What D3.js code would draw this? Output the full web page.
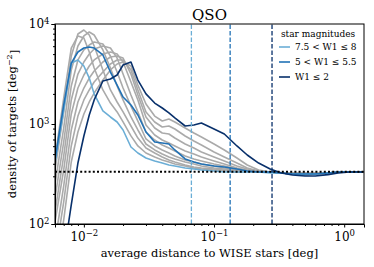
<!DOCTYPE html>
<html>
<head>
<meta charset="utf-8">
<script src="https://cdn.jsdelivr.net/npm/d3@7"></script>
<style>
  body { margin: 0; background: #fff; }
  text { font-family: "DejaVu Serif", serif; }
</style>
</head>
<body>
<svg width="374" height="267"></svg>
<script>
// distances where the curves are sampled [deg]
var xs = [0.006, 0.007, 0.008, 0.009, 0.010, 0.011, 0.012, 0.014, 0.016, 0.018,
          0.020, 0.023, 0.026, 0.030, 0.035, 0.040, 0.045, 0.050, 0.060, 0.070,
          0.080, 0.10, 0.12, 0.15, 0.18, 0.22, 0.27, 0.33, 0.40, 0.50,
          0.60, 0.75, 0.90, 1.1, 1.4];

// other magnitude bins (grey)
var grayCurves = [
  [457, 1820, 5750, 7590, 7240, 5250, 3630, 2190, 1620, 1320, 1050, 760, 603, 513, 468, 437, 417, 398, 380, 363, 355, 347, 339, 331, 331, 331, 331, 324, 324, 324, 324, 324, 331, 331, 331],
  [347, 1320, 4790, 7940, 8710, 7760, 6030, 3470, 2190, 1660, 1320, 955, 724, 575, 513, 468, 437, 417, 389, 372, 363, 355, 347, 339, 331, 331, 331, 324, 324, 324, 324, 324, 331, 331, 331],
  [251, 912, 3470, 6030, 7590, 8320, 7760, 5500, 3630, 2400, 1740, 1175, 871, 631, 550, 501, 468, 447, 417, 398, 380, 363, 355, 339, 331, 331, 331, 324, 324, 324, 324, 324, 331, 331, 331],
  [182, 661, 2400, 4370, 5500, 6170, 6610, 6310, 4790, 3310, 2290, 1510, 1070, 708, 603, 550, 513, 479, 437, 417, 398, 380, 363, 347, 339, 331, 331, 324, 324, 324, 324, 324, 331, 331, 331],
  [132, 479, 1740, 3160, 4170, 5010, 5620, 6030, 5750, 4570, 3160, 1950, 1320, 832, 692, 617, 575, 537, 479, 447, 427, 398, 380, 355, 339, 331, 331, 324, 324, 324, 324, 324, 331, 331, 331],
  [105, 347, 1260, 2290, 3090, 3800, 4370, 5010, 5250, 5010, 4170, 2630, 1740, 977, 776, 692, 646, 603, 537, 501, 468, 427, 398, 363, 347, 339, 331, 324, 316, 316, 316, 324, 331, 331, 331],
  [66, 240, 871, 1660, 2290, 2880, 3390, 4170, 4680, 4790, 4570, 3160, 1950, 1175, 912, 813, 794, 724, 631, 575, 525, 468, 427, 380, 355, 339, 331, 324, 316, 316, 316, 324, 331, 331, 331],
  [46, 166, 603, 1200, 1740, 2190, 2630, 3310, 3980, 4370, 4370, 3470, 2190, 1320, 1047, 933, 955, 891, 759, 676, 617, 525, 468, 407, 363, 339, 331, 324, 316, 309, 316, 324, 331, 331, 331],
  [31, 110, 417, 832, 1260, 1660, 2040, 2750, 3470, 3980, 4170, 3800, 2450, 1585, 1200, 1072, 1122, 1047, 912, 813, 741, 631, 550, 457, 389, 347, 331, 324, 316, 309, 316, 324, 331, 331, 331]
];

// highlighted bins
var faintStars = [407, 1380, 4070, 4370, 3800, 2880, 2000, 1350, 1175, 1047, 871, 589, 513, 457, 427, 407, 389, 380, 363, 355, 347, 339, 331, 331, 331, 331, 324, 324, 316, 316, 316, 324, 331, 331, 331];
var midStars = [437, 1550, 4070, 5250, 5750, 5890, 5750, 4900, 3310, 2450, 1860, 1550, 1230, 832, 661, 646, 631, 550, 447, 417, 398, 380, 372, 355, 339, 331, 331, 324, 316, 316, 316, 324, 331, 331, 331];
var brightStars = [11, 49, 155, 407, 759, 1230, 1740, 2690, 2820, 3090, 3890, 4170, 2750, 2000, 1620, 1445, 1290, 1150, 955, 977, 1023, 891, 794, 603, 490, 407, 355, 324, 309, 302, 302, 312, 324, 331, 331];

var legendLabels = ["7.5 < W1 \u2264 8", "5 < W1 \u2264 5.5", "W1 \u2264 2"];
var blues = ["#6baed6", "#2171b5", "#08306b"];
var cutRadius = [0.067, 0.133, 0.279];   // dashed lines
var meanDensity = 333;                   // dotted line

var xTicks = [0.01, 0.1, 1], xExp = ["\u22122", "\u22121", "0"];
var yTicks = [100, 1000, 10000], yExp = ["2", "3", "4"];

var svg = d3.select("svg"),
    margin = {left: 55, right: 10, top: 24, bottom: 43},
    width = +svg.attr("width"),
    height = +svg.attr("height");

var x = d3.scaleLog().domain([0.006, 1.42]).range([margin.left, width - margin.right]);
var y = d3.scaleLog().domain([100, 10000]).range([height - margin.bottom, margin.top]);

svg.append("clipPath").attr("id", "clip")
  .append("rect")
    .attr("x", x.range()[0]).attr("y", y.range()[1])
    .attr("width", x.range()[1] - x.range()[0])
    .attr("height", y.range()[0] - y.range()[1]);

var line = d3.line()
    .x(function(d, i) { return x(xs[i]); })
    .y(function(d) { return y(d); });

var plot = svg.append("g").attr("clip-path", "url(#clip)");

plot.selectAll(".gray")
  .data(grayCurves)
  .enter().append("path")
    .attr("d", line)
    .attr("fill", "none")
    .attr("stroke", "#aaaaaa")
    .attr("stroke-width", 1.6)
    .attr("stroke-linejoin", "round");

plot.selectAll(".blue")
  .data([faintStars, midStars, brightStars])
  .enter().append("path")
    .attr("d", line)
    .attr("fill", "none")
    .attr("stroke", function(d, i) { return blues[i]; })
    .attr("stroke-width", 1.6)
    .attr("stroke-linejoin", "round");

plot.selectAll(".cut")
  .data(cutRadius)
  .enter().append("line")
    .attr("x1", function(d) { return x(d); })
    .attr("x2", function(d) { return x(d); })
    .attr("y1", y.range()[0]).attr("y2", y.range()[1])
    .attr("stroke", function(d, i) { return blues[i]; })
    .attr("stroke-width", 1.3)
    .attr("stroke-dasharray", "4.5,2");

plot.append("line")
    .attr("x1", x.range()[0]).attr("x2", x.range()[1])
    .attr("y1", y(meanDensity)).attr("y2", y(meanDensity))
    .attr("stroke", "#000")
    .attr("stroke-width", 2)
    .attr("stroke-dasharray", "2,2.2");

// axes
function superscript(sel, exps) {
  sel.selectAll(".tick text").each(function(d, i) {
    var t = d3.select(this).text(null);
    t.append("tspan").text("10");
    t.append("tspan").attr("dy", "-0.5em").attr("font-size", "8.5px").text(exps[i]);
  });
}

var xMinor = [], yMinor = [];
[0.001, 0.01, 0.1].forEach(function(b) {
  for (var k = 2; k <= 9; k++) xMinor.push(b * k);
});
[100, 1000].forEach(function(b) {
  for (var k = 2; k <= 9; k++) yMinor.push(b * k);
});
xMinor = xMinor.filter(function(v) { return v >= 0.006 && v <= 1.42; });

var gx = svg.append("g")
    .attr("transform", "translate(0," + y.range()[0] + ")")
    .call(d3.axisBottom(x).tickValues(xTicks).tickSize(3.5).tickPadding(4.5))
    .call(superscript, xExp);
svg.append("g")
    .attr("transform", "translate(0," + y.range()[0] + ")")
    .call(d3.axisBottom(x).tickValues(xMinor).tickSize(2).tickFormat(""))
    .select(".domain").remove();

var gy = svg.append("g")
    .attr("transform", "translate(" + x.range()[0] + ",0)")
    .call(d3.axisLeft(y).tickValues(yTicks).tickSize(3.5).tickPadding(2))
    .call(superscript, yExp);
svg.append("g")
    .attr("transform", "translate(" + x.range()[0] + ",0)")
    .call(d3.axisLeft(y).tickValues(yMinor).tickSize(2).tickFormat(""))
    .select(".domain").remove();

svg.selectAll(".tick text")
    .attr("font-family", "DejaVu Serif")
    .attr("font-size", 12)
    .attr("fill", "#000");
svg.selectAll(".domain").attr("stroke", "#000");

// frame
svg.append("rect")
    .attr("x", x.range()[0]).attr("y", y.range()[1])
    .attr("width", x.range()[1] - x.range()[0])
    .attr("height", y.range()[0] - y.range()[1])
    .attr("fill", "none")
    .attr("stroke", "#000")
    .attr("stroke-width", 1);

// labels
svg.append("text")
    .attr("x", (x.range()[0] + x.range()[1]) / 2)
    .attr("y", 20)
    .attr("text-anchor", "middle")
    .attr("font-size", 15)
    .text("QSO");

svg.append("text")
    .attr("x", (x.range()[0] + x.range()[1]) / 2)
    .attr("y", 257)
    .attr("text-anchor", "middle")
    .attr("font-size", 11.5)
    .text("average distance to WISE stars [deg]");

var yl = svg.append("text")
    .attr("transform", "translate(16," + ((y.range()[0] + y.range()[1]) / 2) + ") rotate(-90)")
    .attr("text-anchor", "middle")
    .attr("font-size", 11.5);
yl.append("tspan").text("density of targets [deg");
yl.append("tspan").attr("dy", "-0.45em").attr("font-size", "8px").text("\u22122");
yl.append("tspan").attr("dy", "0.45em").text("]");

// legend
var lg = svg.append("g").attr("font-size", 9);
lg.append("text").attr("x", 281).attr("y", 37).text("star magnitudes");
legendLabels.forEach(function(lab, i) {
  var ly = 47 + i * 15;
  lg.append("line")
      .attr("x1", 279).attr("x2", 290)
      .attr("y1", ly).attr("y2", ly)
      .attr("stroke", blues[i]).attr("stroke-width", 1.6);
  lg.append("text").attr("x", 295).attr("y", ly + 3.2).text(lab);
});
</script>
</body>
</html>
